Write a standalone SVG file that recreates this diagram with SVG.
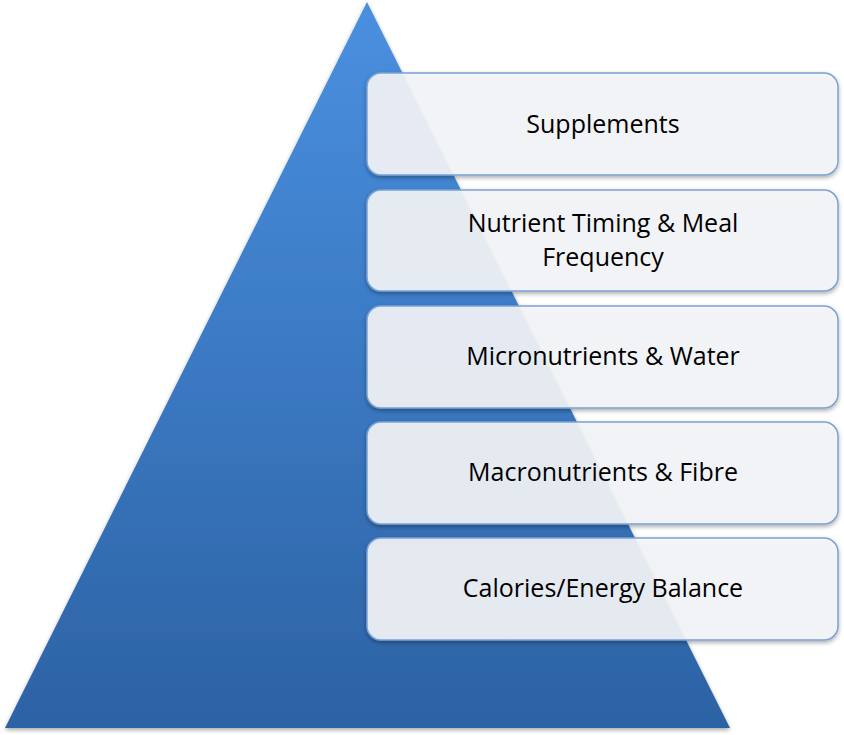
<svg xmlns="http://www.w3.org/2000/svg" width="844" height="735" viewBox="0 0 844 735">
<style>
.box{fill:#f5f6f8;fill-opacity:0.9;stroke:#7ba2d6;stroke-width:1.5}
.t{font-family:"Open Sans","Liberation Sans",sans-serif;font-size:25px;fill:#000;text-anchor:middle}
</style>
<defs>
<linearGradient id="g" x1="0" y1="0" x2="0" y2="1">
<stop offset="0" stop-color="#4a90e0"/>
<stop offset="1" stop-color="#2c62a4"/>
</linearGradient>
<filter id="s" x="-5%" y="-10%" width="110%" height="130%"><feDropShadow dx="0" dy="2" stdDeviation="2" flood-opacity="0.35"/></filter>
</defs>
<g id="pyramid"><polygon points="367,2 730,728 5,728" fill="url(#g)" filter="url(#s)"/></g>
<g id="connectors"/>
<g id="n1"><rect class="box" x="367" y="73" width="471" height="102" rx="14" filter="url(#s)"/><text class="t" x="603" y="133">Supplements</text></g>
<g id="n2"><rect class="box" x="367" y="190" width="471" height="101" rx="14" filter="url(#s)"/><text class="t" x="603" y="232">Nutrient Timing &amp; Meal</text><text class="t" x="603" y="266">Frequency</text></g>
<g id="n3"><rect class="box" x="367" y="306" width="471" height="102" rx="14" filter="url(#s)"/><text class="t" x="603" y="365">Micronutrients &amp; Water</text></g>
<g id="n4"><rect class="box" x="367" y="422" width="471" height="102" rx="14" filter="url(#s)"/><text class="t" x="603" y="481">Macronutrients &amp; Fibre</text></g>
<g id="n5"><rect class="box" x="367" y="538" width="471" height="102" rx="14" filter="url(#s)"/><text class="t" x="603" y="597">Calories/Energy Balance</text></g>
</svg>
